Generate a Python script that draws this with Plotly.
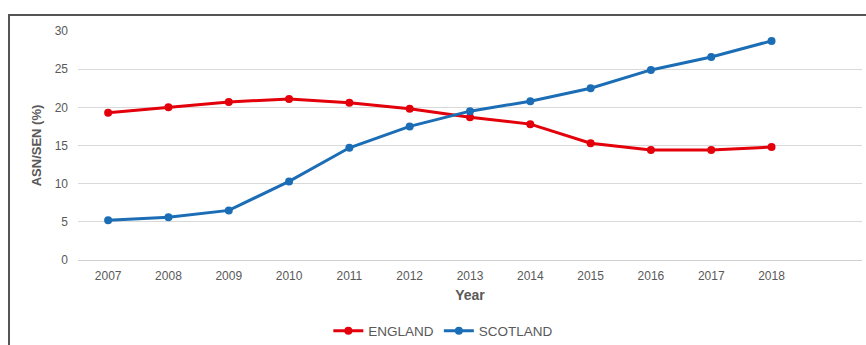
import plotly.graph_objects as go

years = [2007, 2008, 2009, 2010, 2011, 2012, 2013, 2014, 2015, 2016, 2017, 2018]
england = [19.3, 20.0, 20.7, 21.1, 20.6, 19.8, 18.7, 17.8, 15.3, 14.4, 14.4, 14.8]
scotland = [5.2, 5.6, 6.5, 10.3, 14.7, 17.5, 19.5, 20.8, 22.5, 24.9, 26.6, 28.7]

RED = "#e3000b"
BLUE = "#1b6db5"
TXT = "#595959"

fig = go.Figure()
fig.add_trace(go.Scatter(x=years, y=england, name="ENGLAND", mode="lines+markers",
                         line=dict(color=RED, width=3), marker=dict(size=8, color=RED)))
fig.add_trace(go.Scatter(x=years, y=scotland, name="SCOTLAND", mode="lines+markers",
                         line=dict(color=BLUE, width=3), marker=dict(size=8, color=BLUE)))

fig.update_layout(
    width=866, height=345,
    margin=dict(l=78, r=4, t=31, b=85, autoexpand=False),
    paper_bgcolor="white", plot_bgcolor="white",
    font=dict(family="Liberation Sans, Arial, sans-serif", size=12, color=TXT),
    legend=dict(orientation="h", x=0.466, xanchor="center", y=-0.31, yanchor="middle",
                font=dict(size=13.5, color=TXT), itemwidth=30, tracegroupgap=0),
    showlegend=True,
)
fig.update_xaxes(range=[2006.5, 2019.5], tickmode="array", tickvals=years,
                 ticktext=[str(y) for y in years], showgrid=False, zeroline=False,
                 showline=False, ticks="", tickfont=dict(size=12, color=TXT),
                 ticklabelstandoff=7, automargin=False,
                 title=dict(text="<b>Year</b>", font=dict(size=14, color=TXT), standoff=8))
fig.update_yaxes(range=[0, 30], dtick=5, showgrid=True, gridcolor="#d9d9d9", gridwidth=1,
                 zeroline=True, zerolinecolor="#d0d0d0", zerolinewidth=1, showline=False,
                 ticks="", tickfont=dict(size=12, color=TXT), ticklabelstandoff=9,
                 automargin=False,
                 title=dict(text="<b>ASN/SEN (%)</b>", font=dict(size=13, color=TXT), standoff=10))

fig.add_shape(type="rect", xref="paper", yref="paper", x0=-0.088, x1=1.02, y0=-0.45, y1=1.07,
              line=dict(color="#555555", width=2), fillcolor="rgba(0,0,0,0)", layer="above")

fig.write_html("out.html")
